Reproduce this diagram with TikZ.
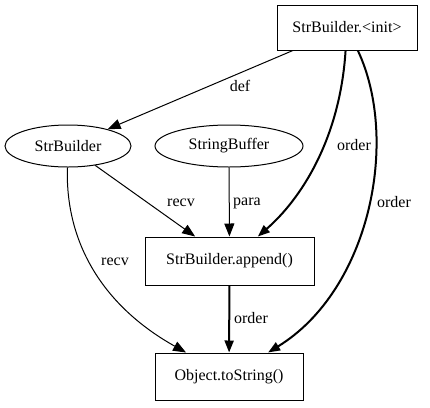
\documentclass[tikz,border=0pt]{standalone}
\usepackage{fontspec}
\setmainfont{Liberation Serif}
\usetikzlibrary{shapes.geometric,arrows.meta}
\begin{document}
\begin{tikzpicture}[x=1pt,y=-1pt,
  every node/.style={font=\fontsize{16}{18}\selectfont, inner sep=0pt},
  boxnode/.style={draw, line width=1pt, rectangle},
  ellnode/.style={draw, line width=1pt, ellipse},
  thin edge/.style={line width=1pt, -{Triangle[length=13pt,width=10pt]}},
  thick edge/.style={line width=2pt, -{Triangle[length=12pt,width=9pt]}},
  lbl/.style={fill=none}]
\useasboundingbox (0,0) rectangle (430,407);
\node[boxnode, minimum width=140pt, minimum height=45pt] (init) at (347,27.5) {StrBuilder.<init>};
\node[ellnode, minimum width=126pt, minimum height=42pt] (sb) at (68,146) {StrBuilder};
\node[ellnode, minimum width=148pt, minimum height=42pt] (buf) at (229,146) {StringBuffer};
\node[boxnode, minimum width=169pt, minimum height=48pt] (app) at (229.5,261) {StrBuilder.append()};
\node[boxnode, minimum width=148pt, minimum height=47pt] (obj) at (229,376.5) {Object.toString()};

\draw[thin edge] (init) -- (sb);
\draw[thick edge] (init) .. controls (340,140) and (300,200) .. (app);
\draw[thick edge] (init) .. controls (400,140) and (370,290) .. (obj);
\draw[thin edge] (sb) -- (app);
\draw[thin edge] (buf) -- (app);
\draw[thin edge] (sb) .. controls (65,250) and (110,310) .. (obj);
\draw[thick edge] (app) -- (obj);

\node[lbl] (l1) at (240,86) {def};
\node[lbl] (l2) at (354,145) {order};
\node[lbl] (l3) at (394,202) {order};
\node[lbl] (l4) at (181,203) {recv};
\node[lbl] (l5) at (247,203) {para};
\node[lbl] (l6) at (115,262) {recv};
\node[lbl] (l7) at (251,318) {order};
\end{tikzpicture}
\end{document}
